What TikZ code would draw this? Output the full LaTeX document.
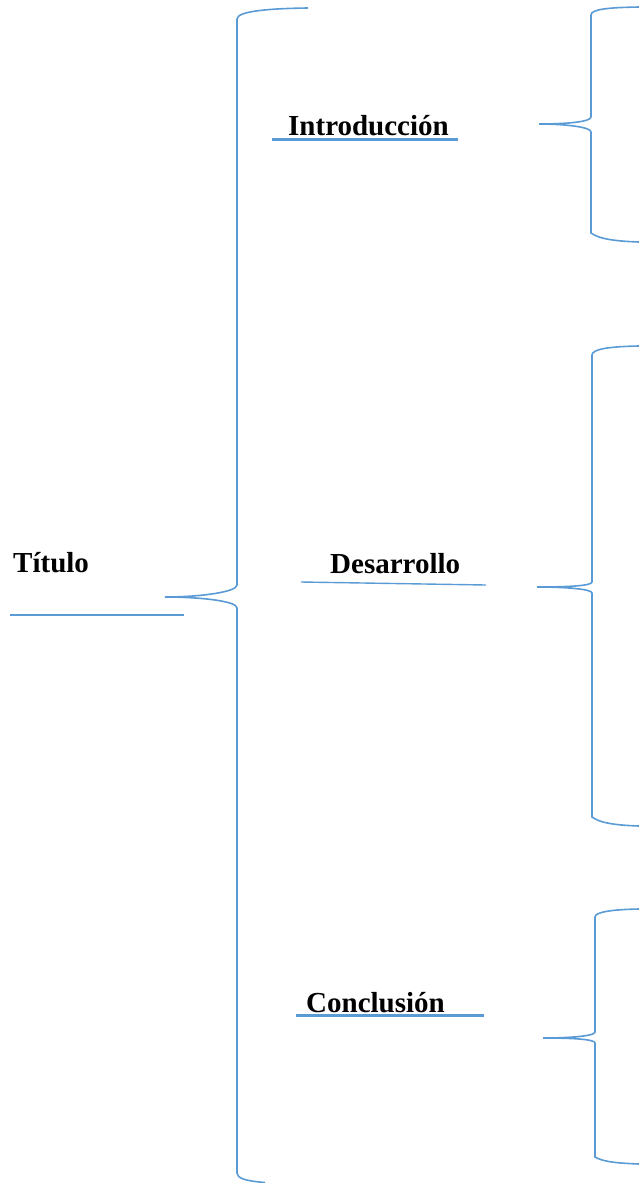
\documentclass[tikz,border=0pt]{standalone}
\usepackage{fontspec}
\setmainfont{Liberation Serif}
\definecolor{bracecol}{HTML}{5B9BD5}
\tikzset{
  bracel/.style={draw=bracecol, line width=1.6pt},
  ulthick/.style={draw=bracecol, line width=2.4pt},
  ulthin/.style={draw=bracecol, line width=1.4pt},
  label/.style={anchor=base west, inner sep=0pt, font=\fontsize{29}{32}\selectfont\bfseries}
}
\begin{document}
\begin{tikzpicture}[x=1pt,y=-1pt]
\useasboundingbox (0,0) rectangle (639,1183);
% texts
\node[label] (titulo) at (13,572) {Título};
\node[label] (intro) at (288,135) {Introducción};
\node[label] (desa) at (330,573) {Desarrollo};
\node[label] (concl) at (306,1012) {Conclusión};
% underlines
\draw[ulthin] (10,615) -- (184,615);
\draw[ulthick] (272,139.5) -- (458,139.5);
\draw[ulthin] (301,582) -- (486,585);
\draw[ulthick] (296,1015.5) -- (484,1015.5);
% big brace
\draw[bracel] (308,8) .. controls (270,8.5) and (237,11) .. (237,19)
  -- (237,585) .. controls (237,592) and (200,597) .. (165,597)
  .. controls (200,597) and (237,601) .. (237,608)
  -- (237,1173) .. controls (237,1178) and (245,1181) .. (265,1182.5);
% intro brace
\draw[bracel] (639,7) .. controls (610,7.5) and (591,9) .. (591,15)
  -- (591,117) .. controls (591,122) and (565,124) .. (539,124)
  .. controls (565,124) and (591,127) .. (591,132)
  -- (591,233) .. controls (598,238) and (610,241) .. (639,242);
% desarrollo brace
\draw[bracel] (639,346) .. controls (610,346.5) and (592,349) .. (592,355)
  -- (592,582) .. controls (592,586) and (565,587) .. (537,587)
  .. controls (565,587) and (592,589) .. (592,593)
  -- (592,817) .. controls (599,822) and (610,825) .. (639,826);
% conclusion brace
\draw[bracel] (639,909) .. controls (612,909.5) and (595,912) .. (595,917)
  -- (595,1032) .. controls (595,1036) and (570,1038) .. (543,1038)
  .. controls (570,1038) and (595,1039) .. (595,1043)
  -- (595,1157) .. controls (602,1161) and (612,1163) .. (639,1164);
\end{tikzpicture}
\end{document}
